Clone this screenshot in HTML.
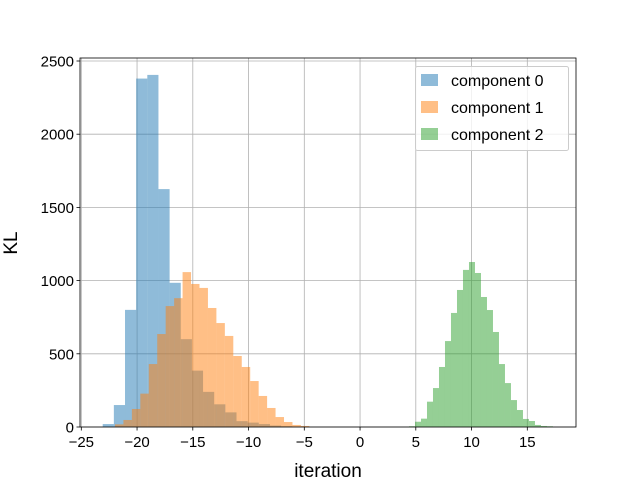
<!DOCTYPE html>
<html><head><meta charset="utf-8"><style>
body{margin:0;background:#fff}
svg{display:block;font-family:"Liberation Sans","DejaVu Sans",sans-serif}
</style></head><body>
<svg id="chart" width="640" height="480" viewBox="0 0 640 480" xmlns="http://www.w3.org/2000/svg">
<rect width="640" height="480" fill="#fff"/>
<g id="grid"></g>
<g id="bars"></g>
<g id="axes"></g>
<g id="legend">
<rect x="415.5" y="66.5" width="153" height="84" fill="#fff" fill-opacity="0.8" stroke="#ccc" rx="2"/>
<rect x="421" y="74" width="17" height="12" fill="#1f77b4" fill-opacity="0.5"/>
<text x="451" y="86" font-size="16">component 0</text>
<rect x="421" y="101" width="17" height="12" fill="#ff7f0e" fill-opacity="0.5"/>
<text x="451" y="113" font-size="16">component 1</text>
<rect x="421" y="128" width="17" height="12" fill="#2ca02c" fill-opacity="0.5"/>
<text x="451" y="140" font-size="16">component 2</text>
</g>
<text x="328" y="477" font-size="19" text-anchor="middle">iteration</text>
<text x="17" y="243" font-size="19" text-anchor="middle" transform="rotate(-90 17 243)">KL</text>
</svg>
<script>
const xTicks=[-25,-20,-15,-10,-5,0,5,10,15];
const yTicks=[0,500,1000,1500,2000,2500];
const start0=-23.08, width0=1.0;
const counts0=[20,150,800,2380,2405,1625,985,600,385,240,155,100,40,30,20,10,5];
const start1=-21.98, width1=0.758;
const counts1=[18,48,123,228,430,635,826,880,1058,977,950,813,710,622,485,410,314,212,130,68,34,14,7];
const start2=4.39, width2=0.538;
const counts2=[5,36,57,173,266,410,587,779,936,1073,1127,1052,888,799,649,430,300,184,116,55,41,14,7,5];
const L=80,R=576,T=58,B=427;
const xs=v=>81.3+(v+25)*11.15;
const ys=v=>B-v*0.1464;
const NS="http://www.w3.org/2000/svg";
function mk(tag,attrs,parent){const e=document.createElementNS(NS,tag);for(const k in attrs)e.setAttribute(k,attrs[k]);parent.appendChild(e);return e;}
const grid=document.getElementById('grid'),bars=document.getElementById('bars'),axes=document.getElementById('axes');
xTicks.forEach(t=>{const x=xs(t);
 const g=mk('line',{x1:x,x2:x,y1:T,y2:B,stroke:'#b0b0b0','stroke-width':0.8},grid);
 
 
 const tk=mk('line',{x1:x,x2:x,y1:B,y2:B+3.5,stroke:'#000','stroke-width':0.8},axes);
 
 
 const lb=mk('text',{x:x,y:B+20,'font-size':15,'text-anchor':'middle'},axes);
 lb.textContent=t<0?'\u2212'+Math.abs(t):String(t);
 
 
});
yTicks.forEach(t=>{const y=ys(t);
 const g=mk('line',{x1:L,x2:R,y1:y,y2:y,stroke:'#b0b0b0','stroke-width':0.8},grid);
 
 
 const tk=mk('line',{x1:L-3.5,x2:L,y1:y,y2:y,stroke:'#000','stroke-width':0.8},axes);
 
 
 const lb=mk('text',{x:L-6,y:y+5.5,'font-size':15,'text-anchor':'end'},axes);
 lb.textContent=String(t);
 
 
});
function series(start,w,counts,color,idx){
 counts.forEach((c,i)=>{const x0=xs(start+i*w),x1=xs(start+(i+1)*w);
  const r=mk('rect',{x:x0,y:ys(c),width:x1-x0,height:B-ys(c),fill:color,'fill-opacity':0.5},bars);
  
  
 });
}
series(start0,width0,counts0,'#1f77b4',0);
series(start1,width1,counts1,'#ff7f0e',1);
series(start2,width2,counts2,'#2ca02c',2);
const frame=mk('rect',{x:L,y:T,width:R-L,height:B-T,fill:'none',stroke:'#000','stroke-width':0.8},axes);


</script>
</body></html>
